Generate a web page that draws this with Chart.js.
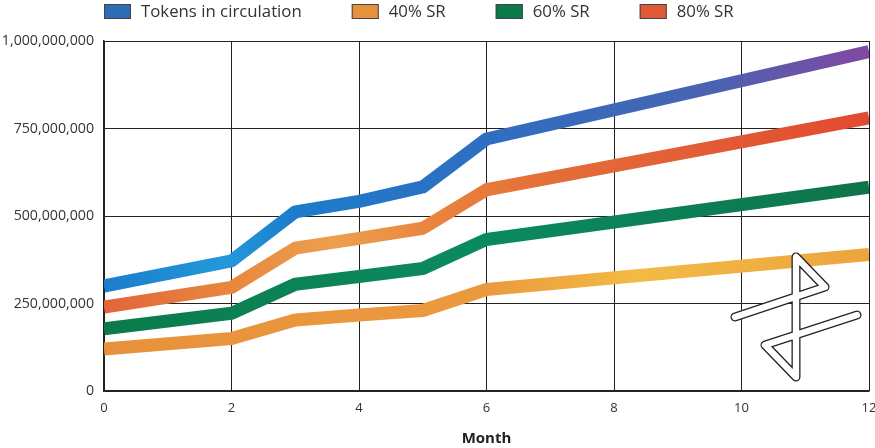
<!DOCTYPE html>
<html>
<head>
<meta charset="utf-8">
<script src="https://cdn.jsdelivr.net/npm/chart.js@4.4.1/dist/chart.umd.min.js"></script>
<style>
  html, body { margin: 0; padding: 0; background: #fff; }
  #wrap { width: 875px; height: 448px; position: relative; }
</style>
</head>
<body>
<div id="wrap"><canvas id="supplyChart"></canvas></div>
<script>
// ===== DATA =====
const months = [0, 2, 3, 4, 5, 6, 12];
const tokensInCirculation = [300e6, 372e6, 512e6, 542e6, 583e6, 720e6, 970e6];
const sr40 = [120e6, 150e6, 203e6, 217e6, 230e6, 290e6, 390e6];
const sr60 = [178e6, 222e6, 305e6, 327e6, 350e6, 433e6, 582e6];
const sr80 = [240e6, 296e6, 408e6, 436e6, 465e6, 575e6, 780e6];
const seriesNames = ['Tokens in circulation', '40% SR', '60% SR', '80% SR'];
const legendColors = ['#2d6db5', '#e8913c', '#0b7a4b', '#e05a36'];
const yTicks = [0, 250e6, 500e6, 750e6, 1000e6];
const xTicks = [0, 2, 4, 6, 8, 10, 12];

const FONT = "'Open Sans', sans-serif";

// gradient stops along the x axis (fraction of chart width)
const gradientStops = [
  [[0, '#1b7dcc'], [0.16, '#2399da'], [0.25, '#1d7bcb'], [0.5, '#2f6ec0'], [0.8, '#4a63b2'], [1, '#8348a0']],
  [[0, '#e8913c'], [0.5, '#eb9a3e'], [0.7, '#f2bb45'], [1, '#eda43e']],
  [[0, '#0b7a4b'], [0.45, '#0b8a5e'], [0.5, '#0a8a60'], [1, '#0f744b']],
  [[0, '#e2653a'], [0.16, '#e8863e'], [0.3, '#eca04e'], [0.45, '#e9803c'], [0.6, '#e46c38'], [1, '#e14a30']]
];

function makePoints(values) {
  return months.map((m, i) => ({ x: m, y: values[i] }));
}

const gradCache = {};
function lineColor(ctx) {
  const chart = ctx.chart;
  const area = chart.chartArea;
  const idx = ctx.datasetIndex;
  if (!area) return legendColors[idx];
  const key = idx + ':' + area.left + ':' + area.right;
  if (!gradCache[key]) {
    const g = chart.ctx.createLinearGradient(area.left, 0, area.right, 0);
    gradientStops[idx].forEach(s => g.addColorStop(s[0], s[1]));
    gradCache[key] = g;
  }
  return gradCache[key];
}

// ===== LEGEND (drawn above the plot) =====
const topLegend = {
  id: 'topLegend',
  afterDraw(chart) {
    const c = chart.ctx;
    c.save();
    c.font = '16.8px ' + FONT;
    c.textBaseline = 'middle';
    let x = chart.chartArea.left;
    seriesNames.forEach((name, i) => {
      c.fillStyle = legendColors[i];
      c.fillRect(x, 4, 27, 15);
      c.strokeStyle = '#444';
      c.lineWidth = 1;
      c.strokeRect(x + 0.5, 4.5, 26, 14);
      c.fillStyle = '#333';
      c.fillText(name, x + 37, 12);
      x += 37 + c.measureText(name).width + 50;
    });
    c.restore();
  }
};

// ===== LOGO =====
const logo = {
  id: 'logo',
  afterDatasetsDraw(chart) {
    const a = chart.chartArea;
    const pts = [[-134, -74], [-44, -104], [-73, -134], [-73, -14], [-104, -46], [-12, -76]];
    const c = chart.ctx;
    c.save();
    c.lineJoin = 'round';
    c.lineCap = 'round';
    const trace = () => {
      c.beginPath();
      pts.forEach((p, i) => {
        const px = a.right + p[0], py = a.bottom + p[1];
        if (i === 0) c.moveTo(px, py); else c.lineTo(px, py);
      });
    };
    trace();
    c.strokeStyle = '#222';
    c.lineWidth = 9;
    c.stroke();
    trace();
    c.strokeStyle = '#fff';
    c.lineWidth = 6.4;
    c.stroke();
    c.restore();
  }
};

// ===== CHART =====
const datasets = [tokensInCirculation, sr40, sr60, sr80].map((vals, i) => ({
  label: seriesNames[i],
  data: makePoints(vals),
  borderColor: lineColor,
  backgroundColor: legendColors[i],
  borderWidth: 13,
  borderJoinStyle: 'round',
  pointRadius: 0,
  tension: 0
}));

new Chart(document.getElementById('supplyChart'), {
  type: 'line',
  data: { datasets },
  options: {
    responsive: true,
    maintainAspectRatio: false,
    animation: false,
    layout: { padding: { top: 41, right: 0, left: 0, bottom: 0 } },
    plugins: { legend: { display: false }, tooltip: { enabled: false } },
    scales: {
      x: {
        type: 'linear',
        min: 0,
        max: 12,
        afterBuildTicks: s => { s.ticks = xTicks.map(v => ({ value: v })); },
        afterFit: s => { s.height = 57; s.paddingLeft = 0; s.paddingRight = 6; },
        ticks: { color: '#333', font: { family: FONT, size: 13 }, padding: 9, maxRotation: 0 },
        grid: { color: '#222', lineWidth: 1, drawTicks: false },
        border: { color: '#222', width: 1.5 },
        title: { display: true, text: 'Month', color: '#222', font: { family: FONT, size: 15, weight: 'bold' }, padding: { top: 0, bottom: 0 } }
      },
      y: {
        min: 0,
        max: 1000e6,
        afterBuildTicks: s => { s.ticks = yTicks.map(v => ({ value: v })); },
        afterFit: s => { s.width = 104; },
        ticks: {
          color: '#333',
          font: { family: FONT, size: 14.2 },
          padding: 10,
          callback: v => v.toLocaleString('en-US')
        },
        grid: { color: '#222', lineWidth: 1, drawTicks: false },
        border: { color: '#222', width: 1.5 }
      }
    }
  },
  plugins: [topLegend, logo]
});
</script>
</body>
</html>
